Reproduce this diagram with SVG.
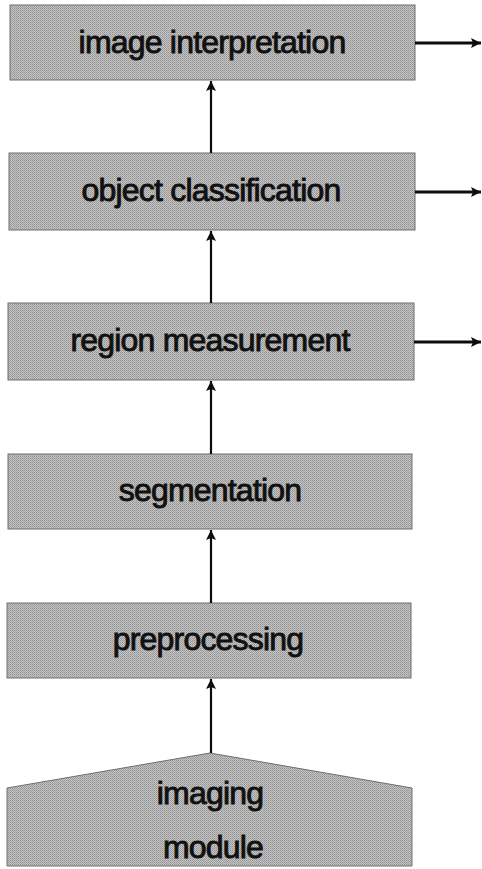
<svg xmlns="http://www.w3.org/2000/svg" width="482" height="869" viewBox="0 0 482 869">
  <defs>
    <!-- halftone-like grey screen used for all blocks -->
    <pattern id="screen" width="2" height="2" patternUnits="userSpaceOnUse">
      <rect width="2" height="2" fill="#c4c4c4"/>
      <rect width="1" height="1" fill="#939393"/>
      <rect x="1" y="1" width="1" height="1" fill="#a2a2a2"/>
    </pattern>
    <marker id="head" markerWidth="12" markerHeight="12" refX="10" refY="5.5" orient="auto" markerUnits="userSpaceOnUse">
      <path d="M0,0.5 L10,5.5 L0,10.5 L2,5.5 Z" fill="#0d0d0d"/>
    </marker>
  </defs>
  <style>
    .block { fill: url(#screen); stroke: #6e6e6e; stroke-width: 1; }
    .label { font-family: "Liberation Sans", Arial, sans-serif; font-size: 32px; letter-spacing: -0.8px; fill: #111; stroke: #111; stroke-width: 0.9; text-anchor: middle; }
    .conn { stroke: #0d0d0d; stroke-width: 2.2; fill: none; marker-end: url(#head); }
    .out { stroke-width: 2.8; }
  </style>

  <rect width="482" height="869" fill="#ffffff"/>

  <g id="image-interpretation">
    <rect class="block" x="10" y="5" width="405" height="75"/>
    <text class="label" x="212" y="53">image interpretation</text>
  </g>

  <g id="object-classification">
    <rect class="block" x="9" y="153" width="406" height="77"/>
    <text class="label" x="211" y="201">object classification</text>
  </g>

  <g id="region-measurement">
    <rect class="block" x="8" y="303" width="406" height="77"/>
    <text class="label" x="210" y="351">region measurement</text>
  </g>

  <g id="segmentation">
    <rect class="block" x="8" y="454" width="404" height="75"/>
    <text class="label" x="210" y="501">segmentation</text>
  </g>

  <g id="preprocessing">
    <rect class="block" x="7" y="603" width="404" height="75"/>
    <text class="label" x="208" y="650">preprocessing</text>
  </g>

  <g id="imaging-module">
    <polygon class="block" points="7,788 210,753 412,788 412,866 7,866"/>
    <text class="label" x="210" y="804">imaging</text>
    <text class="label" x="213" y="858">module</text>
  </g>

  <g id="connectors">
    <line class="conn" x1="211" y1="753" x2="211" y2="679"/>
    <line class="conn" x1="211" y1="603" x2="211" y2="530"/>
    <line class="conn" x1="211" y1="454" x2="211" y2="381"/>
    <line class="conn" x1="211" y1="303" x2="211" y2="231"/>
    <line class="conn" x1="211" y1="153" x2="211" y2="81"/>
    <line class="conn out" x1="415" y1="43" x2="481" y2="43"/>
    <line class="conn out" x1="415" y1="192" x2="481" y2="192"/>
    <line class="conn out" x1="414" y1="342" x2="481" y2="342"/>
  </g>
</svg>
